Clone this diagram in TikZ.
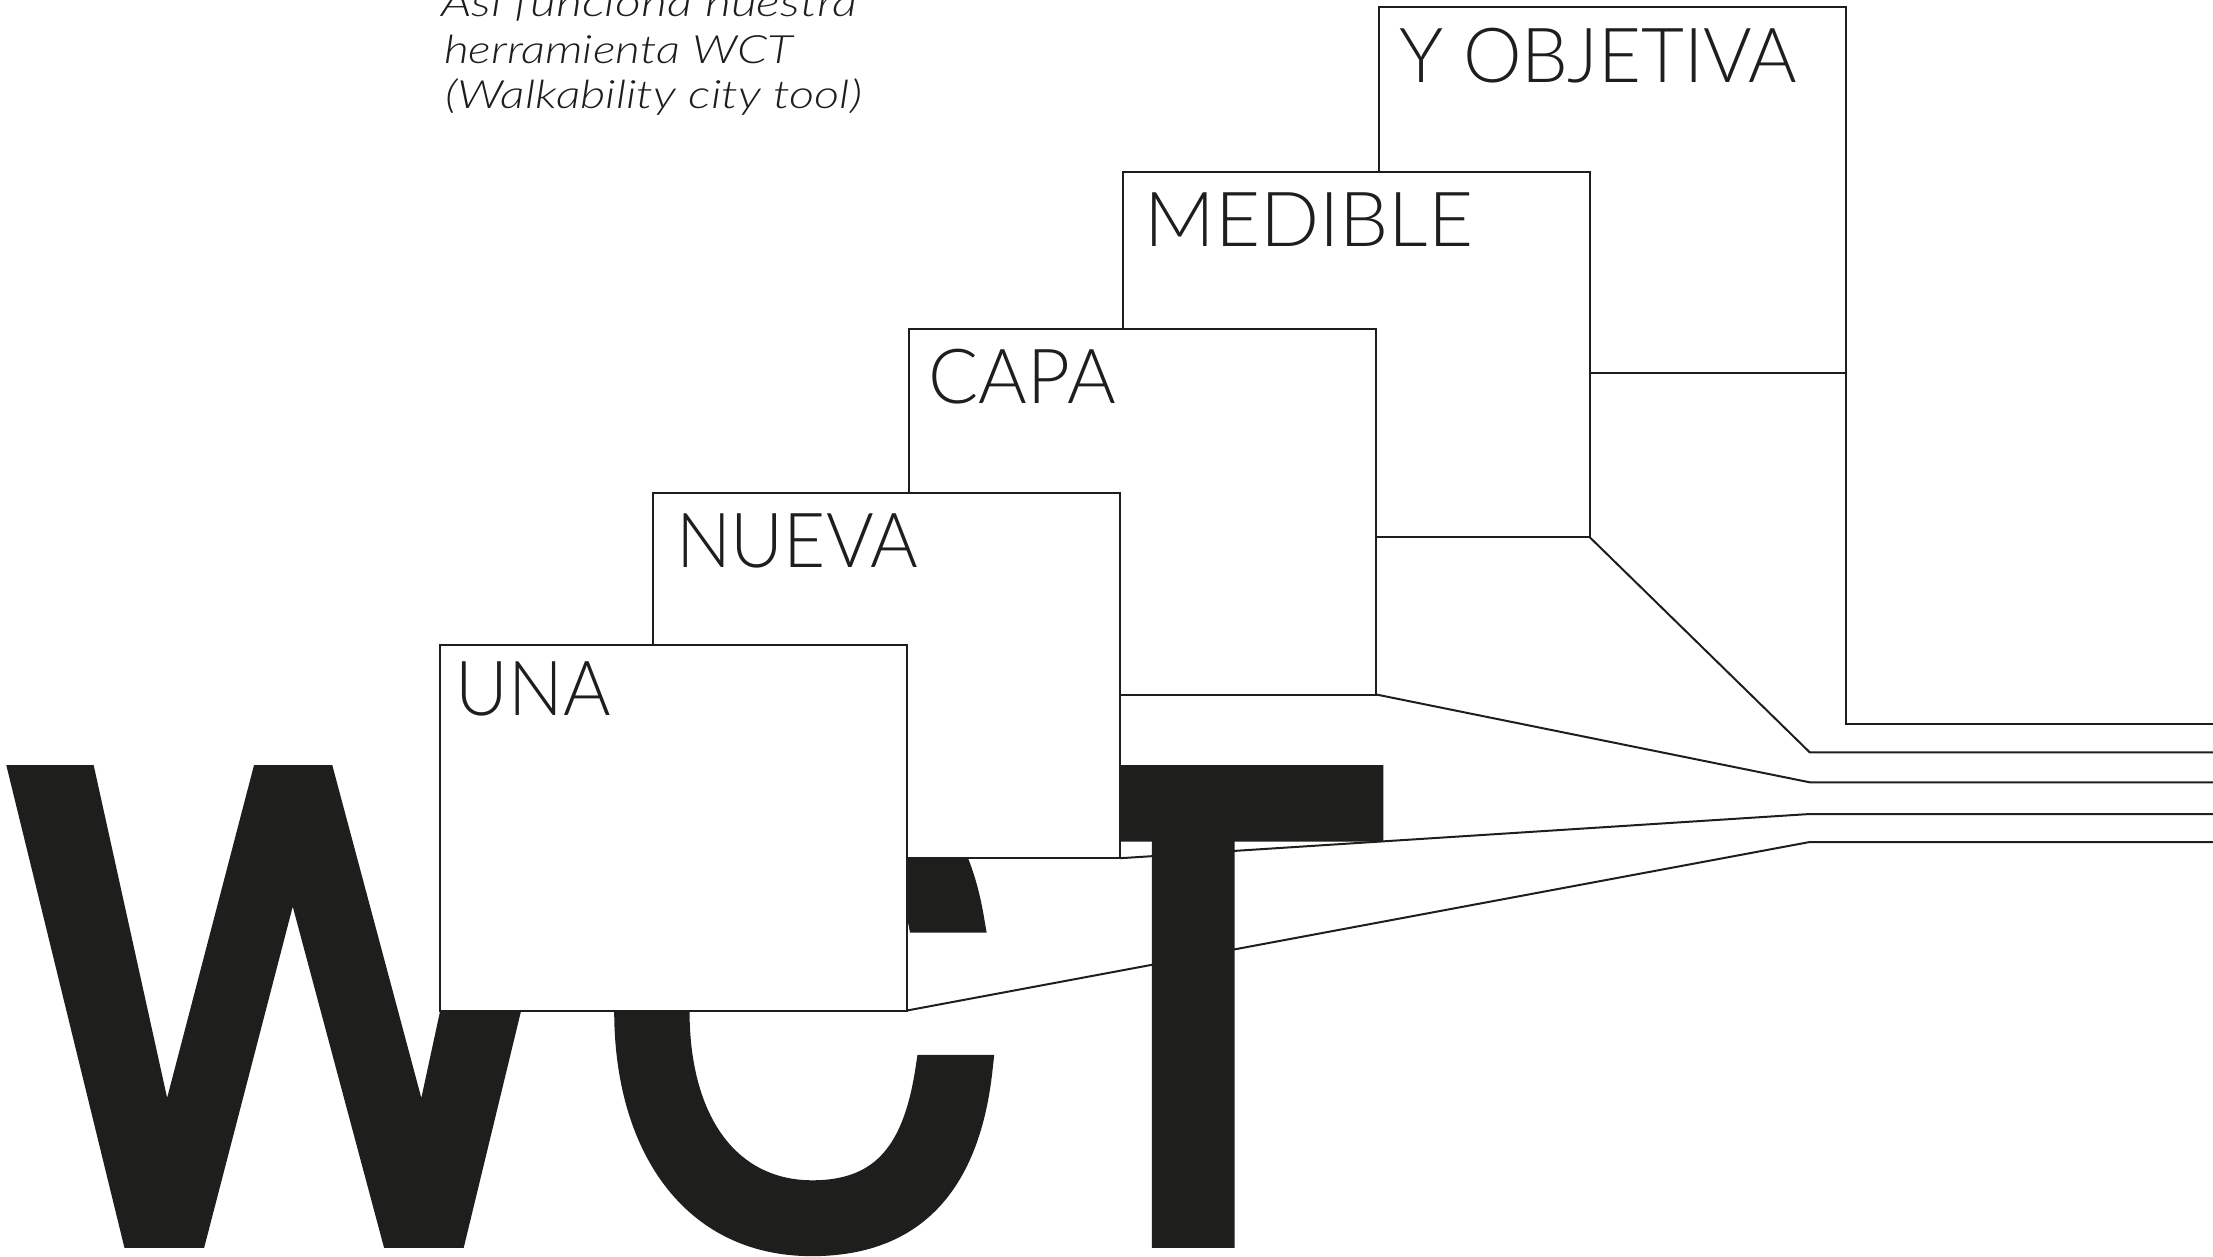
\documentclass[tikz,border=0pt]{standalone}
\usepackage{fontspec}
\usepackage{graphicx}
\newfontfamily\wctfont{TeX Gyre Heros}[FakeBold=4]
\newfontfamily\labfont{Lato Light}
\definecolor{ink}{HTML}{1E1E1C}
\pgfdeclarelayer{lines}
\pgfdeclarelayer{letters}
\pgfsetlayers{lines,letters,main}
\tikzset{
  layerbox/.style={rectangle, draw=ink, fill=white, line width=2pt, minimum width=467pt,
    minimum height=365.5pt, inner sep=0pt, outer sep=0pt, anchor=north west},
  conn/.style={draw=ink, line width=2pt, line join=miter},
  lab/.style={anchor=base west, inner sep=0pt, outer sep=0pt, text=ink},
  big/.style={anchor=base west, inner sep=0pt, outer sep=0pt, text=ink},
}
\newcommand{\labtxt}[2]{\resizebox{#1pt}{\height}{\labfont\fontsize{76}{80}\selectfont #2}}
\newcommand{\ittxt}[2]{\resizebox{#1pt}{\height}{\labfont\itshape\fontsize{39}{45}\selectfont #2}}
\newcommand{\bigtxt}[3]{\resizebox{#1pt}{#2pt}{\wctfont\fontsize{100}{100}\selectfont #3}}
\begin{document}
\begin{tikzpicture}[x=1pt,y=-1pt]
\useasboundingbox (0,0) rectangle (2213,1256);
% intro text
\node[lab] (l1) at (441,16.7) {\ittxt{416}{Así funciona nuestra}};
\node[lab] (l2) at (444,63.3) {\ittxt{349}{herramienta WCT}};
\node[lab] (l3) at (445,108.3) {\ittxt{417}{(Walkability city tool)}};
% stacked boxes, back to front
\node[layerbox] (yobj) at (1379,7.3) {};
\node[lab] (tyobj) at (1399,82.3) {\labtxt{398}{Y OBJETIVA}};
\node[layerbox] (med) at (1122.5,171.5) {};
\node[lab] (tmed) at (1144.3,246) {\labtxt{329}{MEDIBLE}};
\node[layerbox] (capa) at (909.3,329) {};
\node[lab] (tcapa) at (928.7,403.3) {\labtxt{187}{CAPA}};
\node[layerbox] (nueva) at (653.3,492.7) {};
\node[lab] (tnueva) at (676,567.3) {\labtxt{242}{NUEVA}};
\node[layerbox] (una) at (440,645) {};
\node[lab] (tuna) at (455.7,715) {\labtxt{155}{UNA}};
% connectors (behind letters)
\begin{pgfonlayer}{lines}
\coordinate (eY) at (2214,724);
\coordinate (bMed) at (1809.7,752.3);
\coordinate (eMed) at (2214,752.3);
\coordinate (bCapa) at (1809.7,782.3);
\coordinate (eCapa) at (2214,782.3);
\coordinate (bNueva) at (1809.7,814);
\coordinate (eNueva) at (2214,814);
\coordinate (bUna) at (1809.7,842);
\coordinate (eUna) at (2214,842);
\draw[conn] (yobj.south east) |- (eY);
\draw[conn] (med.south east) -- (bMed) -- (eMed);
\draw[conn] (capa.south east) -- (bCapa) -- (eCapa);
\draw[conn] (nueva.south east) -- (bNueva) -- (eNueva);
\draw[conn] (una.south east) -- (bUna) -- (eUna);
\end{pgfonlayer}
% big letters
\begin{pgfonlayer}{letters}
\node[big] (W) at (8.6,1235.3) {\bigtxt{565.4}{457.5}{W}};
\node[big] (C) at (598.4,1232.5) {\bigtxt{408.4}{463.9}{C}};
\node[big] (T) at (1001.9,1235.3) {\bigtxt{380.2}{457.5}{T}};
\end{pgfonlayer}
\end{tikzpicture}
\end{document}
